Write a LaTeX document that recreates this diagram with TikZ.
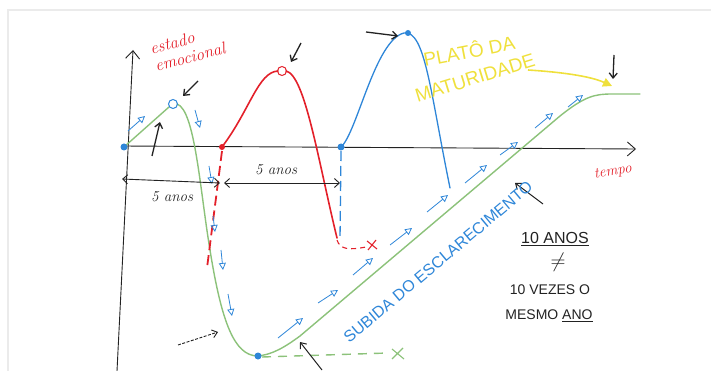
\documentclass[tikz,border=0pt]{standalone}
\usepackage{fontspec}
\usepackage{tikz}
\usetikzlibrary{arrows.meta,calc,positioning}
\newfontfamily\handcaps{Liberation Sans}
\definecolor{SketchGreen}{HTML}{8CC27A}
\definecolor{SketchBlue}{HTML}{2E86D8}
\definecolor{SketchRed}{HTML}{E3202A}
\definecolor{SketchYellow}{HTML}{EFE03C}
\definecolor{SketchInk}{HTML}{222222}
\definecolor{FrameGray}{HTML}{EBEBEB}

\tikzset{
  axis line/.style={SketchInk, line width=0.9pt, -{Straight Barb[length=8pt,width=14pt]}},
  hollow tip/.style={SketchBlue, line width=0.8pt, -{Triangle[open,length=7pt,width=7pt]}},
  pointer/.style={SketchInk, line width=1.3pt, -{Straight Barb[length=5pt,width=8pt]}},
  span arrow/.style={SketchInk, line width=0.9pt, {Straight Barb[length=5pt,width=9pt]}-{Straight Barb[length=5pt,width=9pt]}},
  sketch dot/.style={circle, fill=#1, inner sep=0pt, minimum size=7pt},
}

\begin{document}
\begin{tikzpicture}[x=1pt, y=-1pt]
    \useasboundingbox (0,0) rectangle (711,371);

    % Frame
    \draw[FrameGray, line width=1.6pt] (8,371) -- (8,10) -- (711,10);

    % Axes
    \draw[axis line] (117,371) -- (133,50);
    \draw[axis line] (122,146) -- (636,149);
    \node[SketchRed, font=\itshape\fontsize{17}{17}\selectfont, rotate=15] (estado) at (172,43) {estado};
    \node[SketchRed, font=\itshape\fontsize{17}{17}\selectfont, rotate=15] (emocional) at (190,57) {emocional};
    \node[SketchRed, font=\itshape\fontsize{15}{15}\selectfont, rotate=10] (tempo) at (613,172) {tempo};

    % Green path (descent and rise)
    \draw[SketchGreen, line width=1.4pt, line cap=round]
        (124,147) -- (169,107)
        (177,104) .. controls (195,110) and (200,190) .. (210,250)
        .. controls (222,325) and (235,355) .. (257,356)
        .. controls (272,355) and (285,347) .. (300,336)
        -- (560,116) .. controls (585,96) and (595,94) .. (612,94) -- (640,94);
    \draw[SketchGreen, line width=1.4pt, dashed, dash pattern=on 9pt off 7pt] (262,357) -- (388,353);
    \draw[SketchGreen, line width=1.1pt] (392,349) -- (404,359) (392,359) -- (403,348);

    % Red path
    \draw[SketchRed, line width=1.6pt, line cap=round]
        (222,147) .. controls (250,110) and (258,72) .. (278,71)
        (286,71) .. controls (305,75) and (318,160) .. (337,238);
    \draw[SketchRed, line width=1.8pt, dashed, dash pattern=on 10pt off 5pt] (222,151) -- (207,268);
    \draw[SketchRed, line width=1.1pt, dashed, dash pattern=on 5pt off 4pt]
        (337,240) .. controls (340,250) and (350,250) .. (366,247);
    \draw[SketchRed, line width=1.1pt] (367,241) -- (377,249) (368,250) -- (376,240);

    % Blue path
    \draw[SketchBlue, line width=1.3pt, line cap=round]
        (341,147) .. controls (357,133) and (375,40) .. (404,33)
        .. controls (425,30) and (430,90) .. (450,188);
    \draw[SketchBlue, line width=1.3pt, dashed, dash pattern=on 10pt off 5pt] (341,151) -- (340,240);

    % Dots and circles
    \node[sketch dot=SketchBlue] (origem) at (124,147) {};
    \node[sketch dot=SketchRed, minimum size=6pt] (inicioB) at (222,147) {};
    \node[sketch dot=SketchBlue] (inicioC) at (341,147) {};
    \node[sketch dot=SketchBlue] (fundo) at (258,356) {};
    \node[sketch dot=SketchBlue, minimum size=6pt] (picoC) at (408,33) {};
    \node[circle, draw=SketchBlue, line width=1pt, minimum size=9pt, inner sep=0pt] (picoA) at (173,104) {};
    \node[circle, draw=SketchRed, line width=1pt, minimum size=9pt, inner sep=0pt] (picoB) at (282,71) {};

    % Hollow blue arrows
    \draw[hollow tip] (128,131) -- (145,116);
    \draw[hollow tip] (195,110) -- (200,128);
    \draw[hollow tip] (209,166) -- (212,184);
    \draw[hollow tip] (213,216) -- (215,232);
    \draw[hollow tip] (221,250) -- (223,270);
    \draw[hollow tip] (228,294) -- (232,316);
    \draw[hollow tip] (278,338) -- (303,318);
    \draw[hollow tip] (318,303) -- (338,290);
    \draw[hollow tip] (353,275) -- (373,258);
    \draw[hollow tip] (390,245) -- (412,228);
    \draw[hollow tip] (427,212) -- (448,195);
    \draw[hollow tip] (465,183) -- (487,165);
    \draw[hollow tip] (500,155) -- (518,142);
    \draw[hollow tip] (535,128) -- (553,113);
    \draw[hollow tip] (568,107) -- (583,95);

    % Black pointers
    \draw[pointer] (198,81) -- (183,96);
    \draw[pointer] (152,156) -- (160,122);
    \draw[pointer] (301,43) -- (291,62);
    \draw[pointer] (366,32) -- (398,36);
    \draw[pointer] (614,55) -- (613,79);
    \draw[pointer, line width=1pt] (543,204) -- (515,183);
    \draw[pointer, line width=0.9pt, dashed, dash pattern=on 3pt off 1.5pt] (178,345) -- (218,332);
    \draw[pointer, line width=1pt] (322,370) -- (300,342);

    % Time spans
    \draw[span arrow] (122,179) -- (220,183);
    \draw[span arrow] (224,183) -- (340,183);
    \node[SketchInk, font=\itshape\fontsize{15}{15}\selectfont] (anosA) at (172,197) {5 anos};
    \node[SketchInk, font=\itshape\fontsize{15}{15}\selectfont] (anosB) at (276,170) {5 anos};

    % Plateau label
    \node[SketchYellow, font=\handcaps\fontsize{19}{19}\selectfont, rotate=11] (plato) at (469,50) {PLATÔ DA};
    \node[SketchYellow, font=\handcaps\fontsize{19}{19}\selectfont, rotate=17] (maturidade) at (475,78) {MATURIDADE};
    \draw[SketchYellow, line width=1.6pt, -{Triangle[length=9pt,width=9pt]}]
        (528,70) .. controls (560,72) and (590,76) .. (612,86);

    % Rise label
    \node[SketchBlue, font=\handcaps\fontsize{16}{16}\selectfont, rotate=40] (subida) at (438,262) {SUBIDA DO ESCLARECIMENTO};

    % Note
    \node[SketchInk, font=\handcaps\fontsize{16}{16}\selectfont] (dezanos) at (555,239) {\underline{10 ANOS}};
    \node[SketchInk, font=\fontsize{22}{22}\selectfont] (diferente) at (558,262) {$\neq$};
    \node[SketchInk, font=\handcaps\fontsize{14}{14}\selectfont] (dezvezes) at (550,290) {10 VEZES O};
    \node[SketchInk, font=\handcaps\fontsize{14}{14}\selectfont] (mesmoano) at (549,316) {MESMO \underline{ANO}};

\end{tikzpicture}
\end{document}
